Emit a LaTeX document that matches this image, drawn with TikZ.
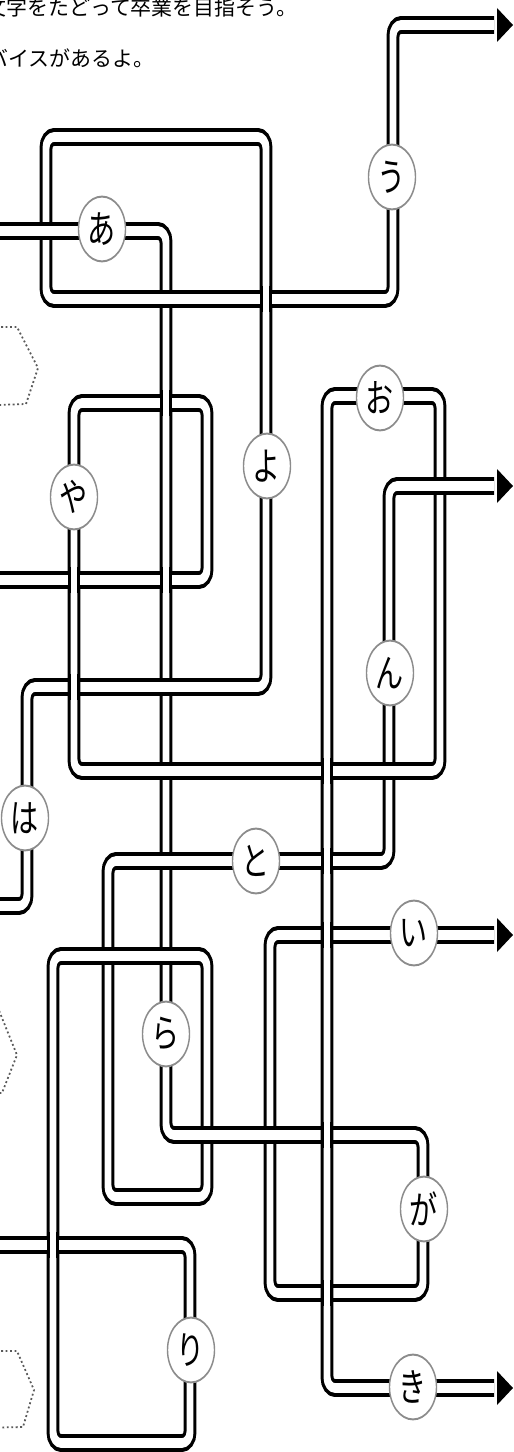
\documentclass[tikz,border=0pt]{standalone}
\usepackage{fontspec}
\newfontfamily\jpfont{Noto Sans CJK JP}
\begin{document}
\begin{tikzpicture}[x=0.3mm,y=-0.3mm,
  tube/.style={draw=black, line width=2.55pt, double=white, double distance=5.95pt, rounded corners=6.8pt},
  patch/.style={draw=black, line width=2.55pt, double=white, double distance=5.95pt},
  lab/.style={circle, draw=black!45, line width=1.2pt, fill=white, minimum size=14.1mm, inner sep=0pt,
    font=\jpfont\fontsize{24pt}{24pt}\selectfont},
  hexa/.style={draw=black!65, line width=1.5pt, dash pattern=on 1.6pt off 2.2pt},
  tip/.style={fill=black},
  msg/.style={anchor=base west, inner sep=0pt, font=\jpfont\fontsize{17.9pt}{20pt}\selectfont}
]
\useasboundingbox (0,0) rectangle (513,1452);
\clip (0,0) rectangle (513,1452);

% instructions at the top
\node[msg] (line1) at (-15,15.5) {文字をたどって卒業を目指そう。};
\node[msg] (line2) at (-55,66.5) {アドバイスがあるよ。};

% dashed start hexagons on the left edge
\draw[hexa] (-30,327) -- (17,327) -- (38,368) -- (26,404) -- (-30,406);
\draw[hexa] (-30,1008) -- (-2,1008) -- (17,1055) -- (2,1093) -- (-30,1093);
\draw[hexa] (-30,1351) -- (17,1351) -- (34,1390) -- (23,1427) -- (-30,1428);

% goal arrow tips on the right edge
\coordinate (g1) at (497,25);
\coordinate (g2) at (497,486);
\coordinate (g3) at (497,935);
\coordinate (g4) at (497,1388);
\foreach \g in {g1,g2,g3,g4}
  \fill[tip] ([yshift=5.1mm]\g) -- ([xshift=4.8mm]\g) -- ([yshift=-5.1mm]\g) -- cycle;

\begin{scope}[y=-0.21739mm, transform canvas={yscale=1.38}]
  % four tubes
  \draw[tube] (-5,906) -- (27,906) -- (27,687) -- (266,687) -- (266,137) -- (46,137)
     -- (46,299) -- (393,299) -- (393,25) -- (494,25);
  \draw[tube] (-5,231) -- (166,231) -- (166,1135) -- (423,1135) -- (423,1293)
     -- (270,1293) -- (270,935) -- (494,935);
  \draw[tube] (-5,580) -- (207,580) -- (207,403) -- (74,403) -- (74,771) -- (440,771)
     -- (440,396) -- (327,396) -- (327,1388) -- (494,1388);
  \draw[tube] (-5,1245) -- (190,1245) -- (190,1443) -- (53,1443) -- (53,956) -- (207,956)
     -- (207,1197) -- (108,1197) -- (108,861) -- (389,861) -- (389,486) -- (494,486);

  % crossings: h = horizontal passes over, v = vertical passes over
  \foreach \x/\y/\o in {166/687/h, 74/687/v, 166/299/h, 266/299/v, 46/231/h,
      270/1135/h, 327/1135/v, 207/1135/h, 327/1293/v, 327/935/v, 74/580/v,
      166/580/v, 166/403/v, 166/771/h, 327/771/v, 389/771/h, 53/1245/v,
      166/956/h, 108/956/h, 166/861/h, 327/861/v, 440/486/h}{
    \if\o h
      \draw[patch] (\x-11,\y) -- (\x+11,\y);
    \else
      \draw[patch] (\x,\y-13) -- (\x,\y+13);
    \fi
  }

  % letter stations
  \node[lab] (a)  at (102,229)  {あ};
  \node[lab] (u)  at (392,177)  {う};
  \node[lab] (ya) at (74,497)   {や};
  \node[lab] (yo) at (267,466)  {よ};
  \node[lab] (o)  at (380,398)  {お};
  \node[lab] (n)  at (390,673)  {ん};
  \node[lab] (ha) at (25,818)   {は};
  \node[lab] (to) at (256,861)  {と};
  \node[lab] (i)  at (414,933)  {い};
  \node[lab] (ra) at (166,1034) {ら};
  \node[lab] (ga) at (424,1209) {が};
  \node[lab] (ri) at (191,1350) {り};
  \node[lab] (ki) at (413,1387) {き};
\end{scope}
\end{tikzpicture}
\end{document}
